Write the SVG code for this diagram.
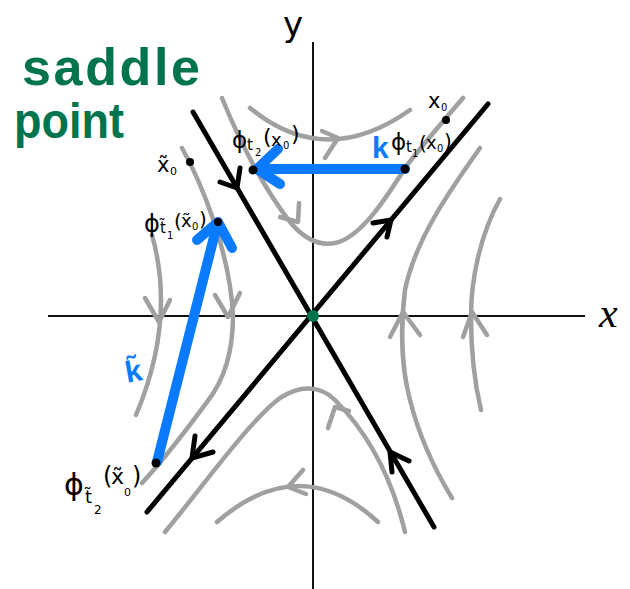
<svg xmlns="http://www.w3.org/2000/svg" width="630" height="589" viewBox="0 0 630 589">
<style>
.axis{stroke:#111;stroke-width:2;fill:none}
.man{stroke:#000;stroke-width:5;fill:none;stroke-linecap:round;stroke-linejoin:round}
.flow{stroke:#a0a0a0;stroke-width:4.5;fill:none;stroke-linecap:round;stroke-linejoin:round}
.blue{stroke:#0a7bff;stroke-width:10;fill:none;stroke-linecap:round;stroke-linejoin:round}
.lbl{font-family:"DejaVu Sans",sans-serif;fill:#000}
.green{font-family:"Liberation Sans",Arial,sans-serif;font-weight:bold;fill:#00734f}
.kl{font-family:"Liberation Sans",Arial,sans-serif;font-weight:bold;fill:#0a7bff}
</style>
<rect width="630" height="589" fill="#fff"/>
<g id="axes">
<line class="axis" x1="48" y1="316" x2="585" y2="316"/>
<line class="axis" x1="313" y1="42" x2="313" y2="589"/>
<text x="283" y="36" class="lbl" font-size="34">y</text>
<text x="599" y="327" font-family="'Liberation Serif',serif" font-style="italic" font-size="42">x</text>
</g>
<g id="flow-curves">
<path class="flow" d="M250,108 Q325,170 410,110"/>
<path class="flow" d="M322,131 L338,138 L325,158"/>
<path class="flow" d="M222,98 C235,130 258,180 290,222 C305,240 320,246 335,243 C360,238 385,200 405,168 C420,148 440,125 463,98"/>
<path class="flow" d="M299,203 L298,222 L280,217"/>
<path class="flow" d="M152,235 Q176,320 136,415"/>
<path class="flow" d="M145,298 L159,322 L170,300"/>
<path class="flow" d="M182,148 C200,180 230,250 233,316 C233,350 226,378 207,402 C190,425 168,455 142,483"/>
<path class="flow" d="M215,295 L228,317 L240,293"/>
<path class="flow" d="M480,148 C450,190 415,240 405,290 C400,330 402,370 410,400 C420,440 435,470 452,498"/>
<path class="flow" d="M390,337 L403,312 L420,335"/>
<path class="flow" d="M500,199 C480,235 471,280 471,316 C471,350 475,385 481,410"/>
<path class="flow" d="M463,337 L472,312 L487,335"/>
<path class="flow" d="M165,532 C200,490 250,420 280,398 C300,385 320,385 335,400 C365,430 390,470 405,532"/>
<path class="flow" d="M328,428 L335,407 L349,411"/>
<path class="flow" d="M217,522 Q300,450 378,522"/>
<path class="flow" d="M303,470 L288,487 L306,494"/>
</g>
<g id="manifolds">
<line class="man" x1="193" y1="112" x2="434" y2="527"/>
<line class="man" x1="488" y1="104" x2="147" y2="512"/>
<path class="man" d="M220,182 L237,188 L240,168"/>
<path class="man" d="M392,472 L390,452 L409,461"/>
<path class="man" d="M373,223 L391,220 L387,237"/>
<path class="man" d="M195,436 L192,458 L213,452"/>
</g>
<g id="origin"><circle cx="313" cy="316" r="6" fill="#00734f"/></g>
<g id="blue-arrows">
<path class="blue" d="M405,169 L258,169"/>
<path class="blue" d="M278,149 L257,169 L280,184"/>
<path class="blue" d="M157,462 L217,225"/>
<path class="blue" d="M197,240 L218,222 L232,248"/>
<text x="372" y="158" class="kl" font-size="30">k</text>
<text x="124" y="381" class="kl" font-size="30" transform="rotate(-10 135 365)">k̃</text>
</g>
<g id="points">
<circle cx="446" cy="120" r="4"/>
<circle cx="405" cy="169" r="4.5"/>
<circle cx="253" cy="170" r="4.5"/>
<circle cx="190" cy="162" r="4"/>
<circle cx="218" cy="222" r="4"/>
<circle cx="156" cy="463" r="4.5"/>
</g>
<g id="labels">
<text class="lbl"><tspan x="428" y="108" font-size="21">x</tspan><tspan x="441" y="111" font-size="10">0</tspan></text>
<text class="lbl"><tspan x="391" y="150" font-size="23">ϕ</tspan><tspan x="406" y="152" font-size="15">t</tspan><tspan x="412" y="157" font-size="10">1</tspan><tspan x="419" y="150" font-size="20">(</tspan><tspan x="426" y="149" font-size="18">x</tspan><tspan x="437" y="152" font-size="10">0</tspan><tspan x="444" y="148" font-size="20">)</tspan></text>
<text class="lbl"><tspan x="232" y="148" font-size="23">ϕ</tspan><tspan x="247" y="150" font-size="15">t</tspan><tspan x="255" y="156" font-size="10">2</tspan><tspan x="263" y="144" font-size="22">(</tspan><tspan x="271" y="146" font-size="18">x</tspan><tspan x="283" y="149" font-size="10">0</tspan><tspan x="291" y="141" font-size="22">)</tspan></text>
<text class="lbl"><tspan x="157" y="172" font-size="21">x̃</tspan><tspan x="170" y="175" font-size="11">0</tspan></text>
<text class="lbl"><tspan x="144" y="232" font-size="24">ϕ</tspan><tspan x="160" y="233" font-size="15">t̃</tspan><tspan x="167" y="239" font-size="10">1</tspan><tspan x="174" y="228" font-size="20">(</tspan><tspan x="181" y="227" font-size="18">x̃</tspan><tspan x="192" y="230" font-size="10">0</tspan><tspan x="199" y="226" font-size="20">)</tspan></text>
<text class="lbl"><tspan x="64" y="495" font-size="30">ϕ</tspan><tspan x="85" y="503" font-size="18">t̃</tspan><tspan x="94" y="514" font-size="12">2</tspan><tspan x="103" y="484" font-size="24">(</tspan><tspan x="111" y="484" font-size="22">x̃</tspan><tspan x="124" y="496" font-size="11">0</tspan><tspan x="132" y="484" font-size="24">)</tspan></text>
</g>
<g id="title">
<text x="22" y="85" class="green" font-size="52" textLength="178" lengthAdjust="spacing">saddle</text>
<text x="14" y="138" class="green" font-size="50" textLength="110" lengthAdjust="spacingAndGlyphs">point</text>
</g>
</svg>
